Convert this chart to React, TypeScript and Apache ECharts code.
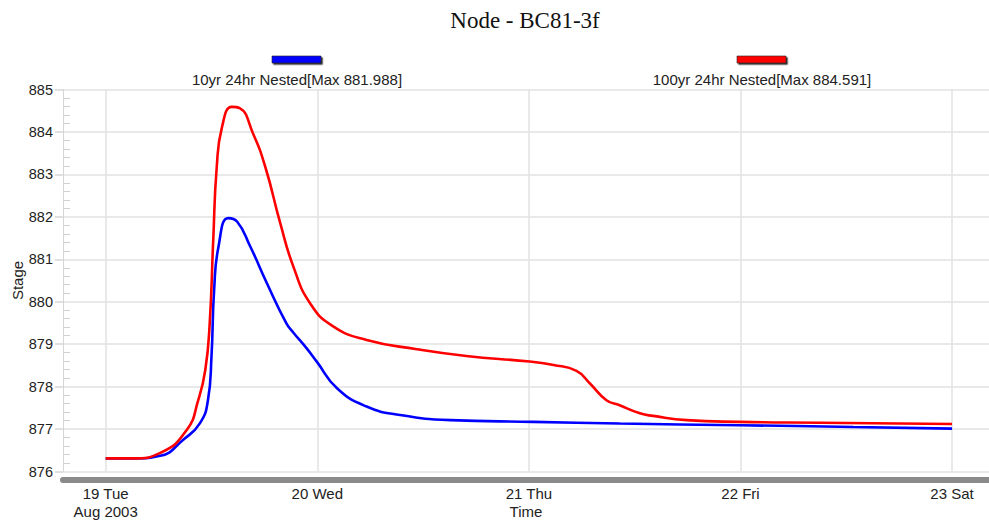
import React, { useEffect, useRef } from "react";
import * as echarts from "echarts";

const TITLE = "Node - BC81-3f";
const SERIES_NAMES = ["10yr 24hr Nested[Max 881.988]", "100yr 24hr Nested[Max 884.591]"];
const SERIES_COLORS = ["#0000ff", "#ff0000"];
const Y_AXIS_NAME = "Stage";
const X_AXIS_NAME = "Time";
const YEAR_LABEL = "Aug 2003";

// hours since 19 Aug 2003 00:00
const DAY_TICKS = [0, 24, 48, 72, 96];
const DAY_LABELS = ["19 Tue", "20 Wed", "21 Thu", "22 Fri", "23 Sat"];
const Y_MIN = 876;
const Y_MAX = 885;
const X_MIN = -4.84;
const X_MAX = 100.19;

const hours10 = [0, 3.3, 6.2, 8.8, 10.7, 11.6, 12.0, 12.3, 12.8, 13.9, 14.9, 16.4, 18.3, 20.5, 21.3, 22.8, 23.9, 26.3, 29.6, 33.4, 39.1, 48.5, 58.3, 71.9, 84.8, 96];
const stage10 = [876.31, 876.31, 876.37, 876.75, 877.14, 877.68, 878.7, 880.27, 881.3, 881.97, 881.89, 881.3, 880.43, 879.49, 879.27, 878.9, 878.6, 877.95, 877.53, 877.33, 877.21, 877.17, 877.13, 877.09, 877.05, 877.01];

const hours100 = [0, 3.1, 6.2, 9.2, 10.5, 11.3, 11.8, 12.2, 12.6, 13.2, 14.3, 15.2, 16.7, 18.1, 19.8, 21.3, 23.2, 25.8, 29.6, 35.3, 40.9, 48.1, 50.8, 53.4, 54.9, 56.8, 58.3, 60.6, 62.1, 65.9, 71.9, 81.0, 96];
const stage100 = [876.31, 876.31, 876.44, 876.98, 877.68, 878.39, 879.49, 881.45, 883.18, 884.12, 884.59, 884.56, 883.97, 883.18, 881.85, 880.82, 879.96, 879.42, 879.1, 878.88, 878.72, 878.59, 878.51, 878.37, 878.08, 877.68, 877.56, 877.37, 877.31, 877.21, 877.17, 877.15, 877.12];

const LEGEND_POS = [
  { cx: 297, y: 56 },
  { cx: 762, y: 56 },
];

export default function App() {
  const ref = useRef<HTMLDivElement>(null);
  useEffect(() => {
    if (!ref.current) return;
    const chart = echarts.init(ref.current, null, { renderer: "svg" });
    const font = "Arial, 'Liberation Sans', sans-serif";
    const seriesData = [
      hours10.map((h, i) => [h, stage10[i]]),
      hours100.map((h, i) => [h, stage100[i]]),
    ];
    const legendGraphics: any[] = [];
    SERIES_NAMES.forEach((name, i) => {
      legendGraphics.push({
        type: "rect",
        x: LEGEND_POS[i].cx - 25,
        y: LEGEND_POS[i].y,
        shape: { width: 49, height: 7 },
        style: { fill: SERIES_COLORS[i], stroke: "#222", lineWidth: 0.6, shadowColor: "rgba(0,0,0,0.8)", shadowOffsetX: 1.5, shadowOffsetY: 1.5 },
      });
      legendGraphics.push({
        type: "text",
        x: LEGEND_POS[i].cx,
        y: LEGEND_POS[i].y + 16,
        style: { text: name, fill: "#222", font: `15px ${font}`, textAlign: "center", textVerticalAlign: "top" },
      });
    });
    chart.setOption({
      animation: false,
      backgroundColor: "#ffffff",
      title: {
        text: TITLE,
        left: 520,
        top: 4,
        textAlign: "center",
        textStyle: { fontFamily: "'Liberation Serif', 'Times New Roman', serif", fontSize: 23, fontWeight: "normal", color: "#111" },
      },
      graphic: legendGraphics,
      grid: { left: 63, right: 0, top: 89.5, height: 382, containLabel: false, outerBoundsMode: "none" },
      xAxis: {
        type: "value",
        min: X_MIN,
        max: X_MAX,
        name: X_AXIS_NAME,
        nameLocation: "middle",
        nameGap: 24,
        nameMoveOverlap: false,
        nameTextStyle: { fontFamily: font, fontSize: 15, color: "#222" },
        offset: 8,
        axisLine: { show: true, onZero: false, lineStyle: { color: "#8a8a8a", width: 6 } },
        axisTick: { show: false, customValues: DAY_TICKS },
        axisLabel: {
          customValues: DAY_TICKS,
          margin: 5,
          fontFamily: font,
          fontSize: 15,
          color: "#222",
          lineHeight: 18,
          formatter: (v: number) => {
            const idx = DAY_TICKS.indexOf(Math.round(v));
            const lbl = idx >= 0 ? DAY_LABELS[idx] : "";
            return idx === 0 ? `${lbl}\n${YEAR_LABEL}` : lbl;
          },
        },
        splitLine: { show: true, lineStyle: { color: "#e2e2e2", width: 1.5 } },
      },
      yAxis: {
        type: "value",
        min: Y_MIN,
        max: Y_MAX,
        interval: 1,
        name: Y_AXIS_NAME,
        nameLocation: "middle",
        nameGap: 38,
        nameRotate: 90,
        nameMoveOverlap: false,
        nameTextStyle: { fontFamily: font, fontSize: 15, color: "#222" },
        axisLine: { show: true, onZero: false, lineStyle: { color: "#d6d6d6", width: 1 } },
        axisTick: { show: true, length: 8, lineStyle: { color: "#d6d6d6", width: 1.5 } },
        minorTick: { show: true, splitNumber: 5, length: -7, lineStyle: { color: "#d0d0d0", width: 1 } },
        axisLabel: { margin: 10, fontFamily: font, fontSize: 14.5, color: "#222" },
        splitLine: { show: true, lineStyle: { color: "#e2e2e2", width: 1.5 } },
      },
      series: SERIES_NAMES.map((name, i) => ({
        name,
        type: "line",
        data: seriesData[i],
        showSymbol: false,
        smooth: 0.5,
        lineStyle: { color: SERIES_COLORS[i], width: 2.6 },
        itemStyle: { color: SERIES_COLORS[i] },
        z: 2 + i,
      })),
    });
    return () => chart.dispose();
  }, []);
  return <div ref={ref} style={{ position: "absolute", left: 0, top: 0, width: 989, height: 520 }} />;
}
